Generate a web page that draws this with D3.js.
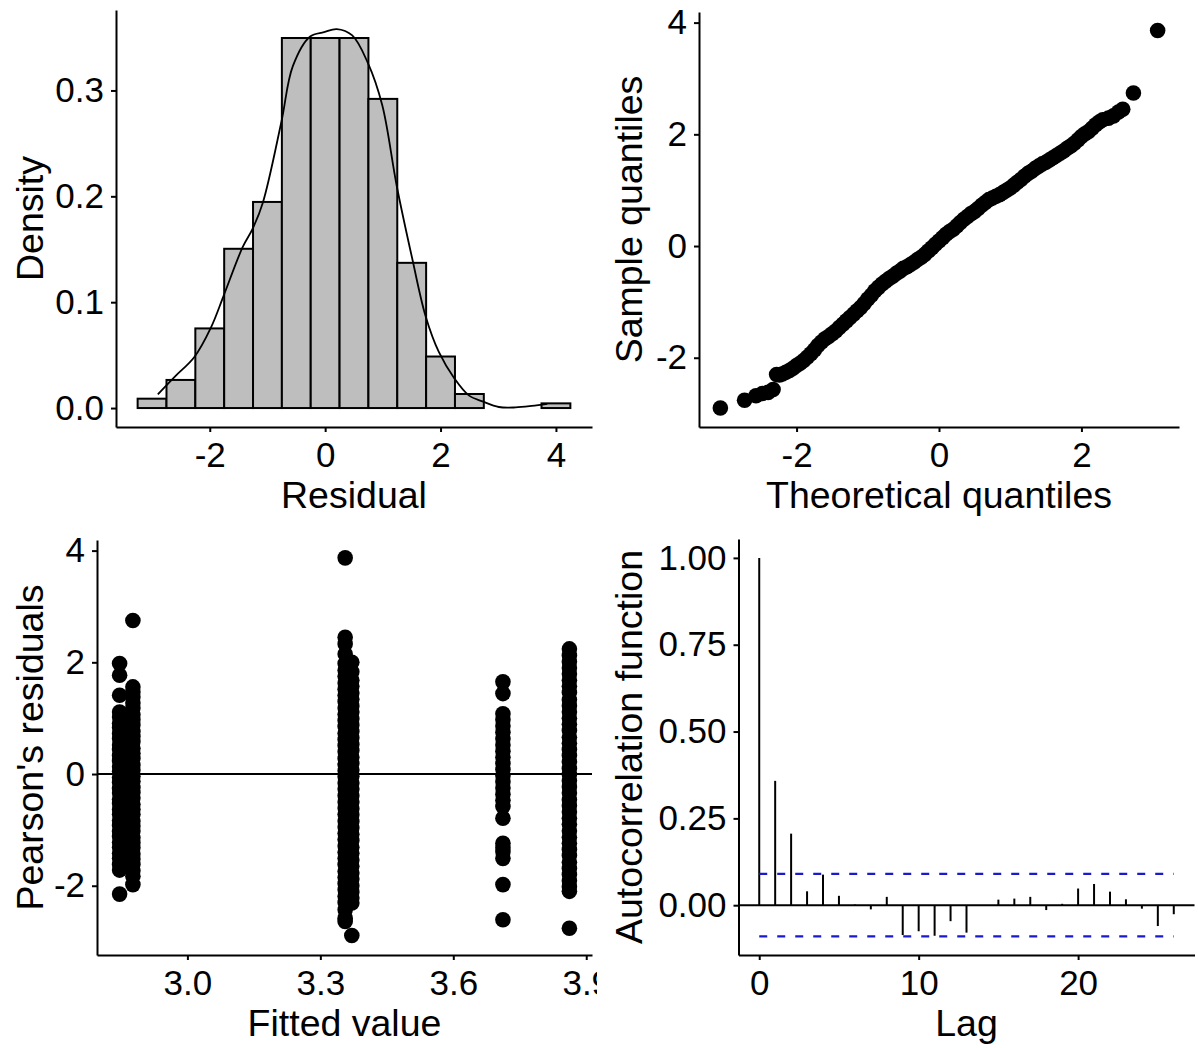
<!DOCTYPE html>
<html>
<head>
<meta charset="utf-8">
<script src="https://cdn.jsdelivr.net/npm/d3@7"></script>
<style>
  body { margin: 0; background: #fff; }
  svg { display: block; }
  text { font-family: 'Liberation Sans', Arial, sans-serif; fill: #000; }
</style>
</head>
<body>
<svg id="chart" width="1198" height="1048"></svg>
<script>
// ---- histogram of residuals (bin width 0.5, n = 452) ----
const binCenters = [-3, -2.5, -2, -1.5, -1, -0.5, 0, 0.5, 1, 1.5, 2, 2.5, 3, 3.5, 4];
const binCounts = [2, 6, 17, 34, 44, 79, 79, 79, 66, 31, 11, 3, 0, 0, 1];
const sampleSize = 452;
const binWidth = 0.5;

// kernel density curve
const densityX = [-2.9, -2.6, -2.27, -1.98, -1.76, -1.43, -1.26, -1.08, -0.76, -0.56, -0.26, -0.02,
  0.2, 0.47, 0.74, 0.99, 1.24, 1.51, 1.74, 1.97, 2.24, 2.49, 2.74, 3.01, 3.3, 3.58, 3.85];
const densityY = [0.013, 0.03, 0.048, 0.076, 0.106, 0.152, 0.169, 0.194, 0.27, 0.323, 0.351, 0.355,
  0.358, 0.352, 0.326, 0.286, 0.21, 0.141, 0.087, 0.053, 0.028, 0.012, 0.006, 0.001, 0.0006, 0.002, 0.004];

// ---- normal Q-Q plot ----
const qqTheoretical = [-3.07, -2.73, -2.57, -2.48, -2.4, -2.33, -2.28, -2.24, -2.2,
  -2.15, -2.1, -2.05, -2.0, -1.95, -1.9, -1.85, -1.8, -1.75, -1.7,
  -1.65, -1.6, -1.55, -1.5, -1.45, -1.4, -1.35, -1.3, -1.25, -1.2,
  -1.15, -1.1, -1.05, -1.0, -0.95, -0.9, -0.85, -0.8, -0.75, -0.7,
  -0.65, -0.6, -0.55, -0.5, -0.45, -0.4, -0.35, -0.3, -0.25, -0.2,
  -0.15, -0.1, -0.05, 0, 0.05, 0.1, 0.15, 0.2, 0.25, 0.3,
  0.35, 0.4, 0.45, 0.5, 0.55, 0.6, 0.65, 0.7, 0.75, 0.8,
  0.85, 0.9, 0.95, 1.0, 1.05, 1.1, 1.15, 1.2, 1.25, 1.3,
  1.35, 1.4, 1.45, 1.5, 1.55, 1.6, 1.65, 1.7, 1.75, 1.8,
  1.85, 1.9, 1.95, 2.0, 2.05, 2.1, 2.15, 2.2, 2.25, 2.3,
  2.38, 2.45, 2.52, 2.58, 2.73, 3.07];
const qqSample = [-2.9, -2.76, -2.68, -2.64, -2.62, -2.57, -2.3, -2.31, -2.29,
  -2.26, -2.23, -2.19, -2.14, -2.1, -2.05, -1.99, -1.93, -1.86, -1.78,
  -1.72, -1.66, -1.62, -1.57, -1.52, -1.46, -1.4, -1.34, -1.28, -1.22,
  -1.16, -1.1, -1.03, -0.95, -0.88, -0.8, -0.74, -0.68, -0.63, -0.58,
  -0.54, -0.49, -0.45, -0.4, -0.37, -0.33, -0.29, -0.24, -0.2, -0.15,
  -0.09, -0.03, 0.03, 0.09, 0.15, 0.21, 0.26, 0.3, 0.36, 0.42,
  0.48, 0.53, 0.58, 0.62, 0.67, 0.73, 0.78, 0.83, 0.86, 0.89,
  0.92, 0.96, 1.0, 1.04, 1.09, 1.14, 1.19, 1.25, 1.3, 1.34,
  1.39, 1.43, 1.47, 1.5, 1.54, 1.58, 1.62, 1.66, 1.7, 1.75,
  1.79, 1.84, 1.9, 1.96, 2.01, 2.05, 2.11, 2.17, 2.22, 2.26,
  2.29, 2.33, 2.4, 2.45, 2.74, 3.86];

// ---- Pearson residuals by fitted value ----
const fittedLevels = [2.847, 2.877, 3.356, 3.371, 3.712, 3.862];
const residualsByLevel = [
  [1.98, 1.77, 1.41, 1.11, 1.02, 0.91, 0.83, 0.72, 0.63, 0.52, 0.44, 0.33, 0.24, 0.13, 0.05, -0.06,
    -0.15, -0.26, -0.34, -0.45, -0.53, -0.64, -0.72, -0.83, -0.92, -1.03, -1.12, -1.22, -1.31, -1.42,
    -1.51, -1.62, -1.72, -2.15],
  [2.75, 1.56, 1.47, 1.38, 1.27, 1.18, 1.06, 0.97, 0.88, 0.76, 0.67, 0.58, 0.46, 0.37, 0.28, 0.16,
    0.07, -0.04, -0.13, -0.24, -0.33, -0.43, -0.54, -0.63, -0.72, -0.84, -0.93, -1.02, -1.14, -1.23,
    -1.32, -1.43, -1.52, -1.62, -1.73, -1.83, -1.98],
  [3.87, 2.45, 2.33, 2.15, 1.98, 1.86, 1.75, 1.63, 1.52, 1.41, 1.3, 1.18, 1.07, 0.96, 0.85, 0.73,
    0.62, 0.51, 0.4, 0.28, 0.17, 0.06, -0.05, -0.16, -0.27, -0.39, -0.5, -0.61, -0.72, -0.84, -0.95,
    -1.06, -1.17, -1.29, -1.4, -1.51, -1.62, -1.74, -1.85, -1.96, -2.07, -2.19, -2.3, -2.43, -2.58, -2.64],
  [2.0, 1.83, 1.68, 1.57, 1.45, 1.34, 1.22, 1.11, 0.99, 0.88, 0.76, 0.65, 0.53, 0.42, 0.3, 0.19,
    0.07, -0.04, -0.16, -0.27, -0.39, -0.5, -0.62, -0.73, -0.85, -0.96, -1.08, -1.19, -1.31, -1.42,
    -1.54, -1.65, -1.77, -1.88, -2.0, -2.11, -2.22, -2.31, -2.89],
  [1.65, 1.44, 1.08, 0.97, 0.86, 0.75, 0.63, 0.52, 0.41, 0.3, 0.19, 0.08, -0.03, -0.14, -0.25, -0.36,
    -0.47, -0.58, -0.79, -1.24, -1.32, -1.39, -1.51, -1.98, -2.61],
  [2.24, 2.12, 2.01, 1.9, 1.79, 1.68, 1.57, 1.46, 1.33, 1.22, 1.11, 1.0, 0.89, 0.78, 0.66, 0.55,
    0.44, 0.33, 0.22, 0.1, -0.01, -0.12, -0.23, -0.34, -0.46, -0.57, -0.68, -0.79, -0.9, -1.02, -1.13,
    -1.24, -1.35, -1.46, -1.58, -1.69, -1.8, -1.91, -2.02, -2.1, -2.76]
];

// ---- autocorrelation of residuals ----
const acfLags = [0, 1, 2, 3, 4, 5, 6, 7, 8, 9, 10, 11, 12, 13, 14, 15, 16, 17, 18, 19, 20, 21, 22, 23, 24, 25, 26];
const acfValues = [1.0, 0.358, 0.206, 0.04, 0.088, 0.027, 0.002, -0.012, 0.024, -0.086, -0.075, -0.088,
  -0.046, -0.079, -0.001, 0.016, 0.019, 0.024, -0.014, 0.004, 0.048, 0.061, 0.039, 0.017, -0.01, -0.06, -0.026];
const acfBound = 0.09;

const TICK_FONT = 35;
const TITLE_FONT = 37.5;
const POINT_R = 7.8;

const svg = d3.select('#chart');
svg.append('rect').attr('width', 1198).attr('height', 1048).attr('fill', '#fff');

const plain = (d) => String(d);

const styleAxis = (g) => {
  g.select('.domain').attr('stroke', '#000').attr('stroke-width', 2);
  g.selectAll('.tick line').attr('stroke', '#000').attr('stroke-width', 2);
  g.selectAll('.tick text')
    .attr('font-size', TICK_FONT)
    .attr('font-family', "'Liberation Sans', Arial, sans-serif")
    .attr('fill', '#000');
};

const drawAxes = (g, x, y, xTicks, yTicks, xFmt, yFmt) => {
  g.append('g')
    .attr('transform', `translate(0,${y.range()[0]})`)
    .call(d3.axisBottom(x).tickValues(xTicks).tickFormat(xFmt).tickSize(5).tickSizeOuter(0).tickPadding(10))
    .call(styleAxis);
  g.append('g')
    .attr('transform', `translate(${x.range()[0]},0)`)
    .call(d3.axisLeft(y).tickValues(yTicks).tickFormat(yFmt).tickSize(5).tickSizeOuter(0).tickPadding(7))
    .call(styleAxis);
};

const drawTitles = (g, x, y, xTitle, yTitle, yTitleX) => {
  const [x0, x1] = x.range();
  const [y0, y1] = y.range();
  g.append('text')
    .attr('x', (x0 + x1) / 2)
    .attr('y', y0 + 81)
    .attr('text-anchor', 'middle')
    .attr('font-size', TITLE_FONT)
    .text(xTitle);
  g.append('text')
    .attr('transform', `translate(${yTitleX},${(y0 + y1) / 2}) rotate(-90)`)
    .attr('text-anchor', 'middle')
    .attr('font-size', TITLE_FONT)
    .text(yTitle);
};

// ---------- panel 1: histogram ----------
{
  const g = svg.append('g');
  const x = d3.scaleLinear().domain([-3.625, 4.625]).range([116, 592]);
  const y = d3.scaleLinear().domain([-0.0179, 0.376]).range([427, 10]);
  const bins = binCenters
    .map((c, i) => ({ c, density: binCounts[i] / (sampleSize * binWidth) }))
    .filter((d) => d.density > 0);

  g.selectAll('.bar')
    .data(bins)
    .join('rect')
    .attr('class', 'bar')
    .attr('x', (d) => x(d.c - binWidth / 2))
    .attr('width', (d) => x(d.c + binWidth / 2) - x(d.c - binWidth / 2))
    .attr('y', (d) => y(d.density))
    .attr('height', (d) => y(0) - y(d.density))
    .attr('fill', '#bebebe')
    .attr('stroke', '#000')
    .attr('stroke-width', 2);

  const line = d3.line()
    .x((d) => x(d[0]))
    .y((d) => y(d[1]))
    .curve(d3.curveCatmullRom);
  g.append('path')
    .datum(d3.zip(densityX, densityY))
    .attr('d', line)
    .attr('fill', 'none')
    .attr('stroke', '#000')
    .attr('stroke-width', 1.8);

  drawAxes(g, x, y, [-2, 0, 2, 4], [0, 0.1, 0.2, 0.3], plain, d3.format('.1f'));
  drawTitles(g, x, y, 'Residual', 'Density', 43);
}

// ---------- panel 2: Q-Q plot ----------
{
  const g = svg.append('g');
  const x = d3.scaleLinear().domain([-3.37, 3.37]).range([699, 1179]);
  const y = d3.scaleLinear().domain([-3.24, 4.19]).range([427, 12]);

  g.selectAll('.qq')
    .data(d3.zip(qqTheoretical, qqSample))
    .join('circle')
    .attr('class', 'qq')
    .attr('cx', (d) => x(d[0]))
    .attr('cy', (d) => y(d[1]))
    .attr('r', POINT_R)
    .attr('fill', '#000');

  drawAxes(g, x, y, [-2, 0, 2], [-2, 0, 2, 4], plain, plain);
  drawTitles(g, x, y, 'Theoretical quantiles', 'Sample quantiles', 642);
}

// ---------- panel 3: residuals vs fitted ----------
{
  svg.append('clipPath').attr('id', 'clip3')
    .append('rect').attr('x', 0).attr('y', 524).attr('width', 597).attr('height', 524);
  const g = svg.append('g').attr('clip-path', 'url(#clip3)');
  const x = d3.scaleLinear().domain([2.796, 3.913]).range([97, 592]);
  const y = d3.scaleLinear().domain([-3.24, 4.19]).range([955, 540]);

  const pts = fittedLevels.flatMap((f, i) => residualsByLevel[i].map((r) => [f, r]));
  g.selectAll('.res')
    .data(pts)
    .join('circle')
    .attr('class', 'res')
    .attr('cx', (d) => x(d[0]))
    .attr('cy', (d) => y(d[1]))
    .attr('r', POINT_R)
    .attr('fill', '#000');

  g.append('line')
    .attr('x1', x.range()[0]).attr('x2', x.range()[1])
    .attr('y1', y(0)).attr('y2', y(0))
    .attr('stroke', '#000')
    .attr('stroke-width', 2);

  drawAxes(g, x, y, [3.0, 3.3, 3.6, 3.9], [-2, 0, 2, 4], d3.format('.1f'), plain);
  drawTitles(g, x, y, 'Fitted value', "Pearson's residuals", 43);
}

// ---------- panel 4: ACF ----------
{
  const g = svg.append('g');
  const x = d3.scaleLinear().domain([-1.3, 27.3]).range([738.5, 1194.5]);
  const y = d3.scaleLinear().domain([-0.1434, 1.0544]).range([955, 539]);

  g.append('line')
    .attr('x1', x.range()[0]).attr('x2', x.range()[1])
    .attr('y1', y(0)).attr('y2', y(0))
    .attr('stroke', '#000')
    .attr('stroke-width', 2);

  g.selectAll('.acf')
    .data(d3.zip(acfLags, acfValues))
    .join('line')
    .attr('class', 'acf')
    .attr('x1', (d) => x(d[0])).attr('x2', (d) => x(d[0]))
    .attr('y1', y(0)).attr('y2', (d) => y(d[1]))
    .attr('stroke', '#000')
    .attr('stroke-width', 2);

  g.selectAll('.ci')
    .data([acfBound, -acfBound])
    .join('line')
    .attr('class', 'ci')
    .attr('x1', x(acfLags[0])).attr('x2', x(acfLags[acfLags.length - 1]))
    .attr('y1', (d) => y(d)).attr('y2', (d) => y(d))
    .attr('stroke', '#1a1acc')
    .attr('stroke-width', 2.2)
    .attr('stroke-dasharray', '8,10');

  drawAxes(g, x, y, [0, 10, 20], [0, 0.25, 0.5, 0.75, 1], plain, d3.format('.2f'));
  drawTitles(g, x, y, 'Lag', 'Autocorrelation function', 642);
}
</script>
</body>
</html>
